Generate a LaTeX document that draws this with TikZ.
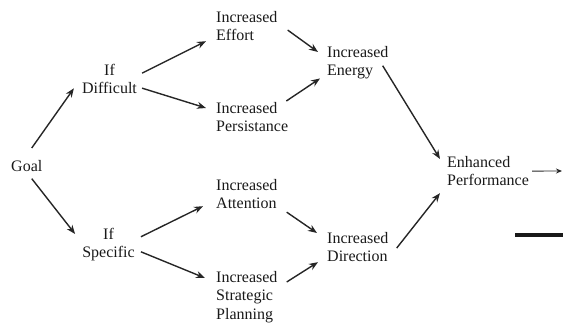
\documentclass[tikz,border=0pt]{standalone}
\usepackage{fontspec}
\setmainfont{Liberation Serif}
\usetikzlibrary{arrows.meta,positioning}

\begin{document}
\begin{tikzpicture}[x=1pt,y=-1pt,
  txt/.style={inner sep=0pt,align=left,anchor=north west,text=black!90,
    font=\fontsize{16}{18.5}\selectfont},
  arr/.style={-{Stealth[length=9pt,width=7pt]},line width=1.4pt,black!85}]
\useasboundingbox (0,0) rectangle (563,324);

\node[txt] (goal) at (11,160) {Goal};
\node[txt,anchor=north,align=center] (diff) at (109.5,64) {If\\Difficult};
\node[txt,anchor=north,align=center] (spec) at (108.5,228) {If\\Specific};
\node[txt] (effort) at (216,11) {Increased\\Effort};
\node[txt] (persist) at (216,102) {Increased\\Persistance};
\node[txt] (attn) at (216,179) {Increased\\Attention};
\node[txt] (plan) at (216,271) {Increased\\Strategic\\Planning};
\node[txt] (energy) at (327,46) {Increased\\Energy};
\node[txt] (direct) at (327,232) {Increased\\Direction};
\node[txt] (perf) at (447,156) {Enhanced\\Performance};
\coordinate (out) at (562,171);

\draw[arr] ([shift={(5,-12)}]goal.north) -- ([shift={(-8,-6)}]diff.south west);
\draw[arr] ([shift={(5,7)}]goal.south) -- ([shift={(-7,6)}]spec.north west);
\draw[arr] ([shift={(5,-6)}]diff.east) -- ([shift={(-10,0)}]effort.south west);
\draw[arr] ([shift={(5,9)}]diff.east) -- ([shift={(-10,6)}]persist.north west);
\draw[arr] ([shift={(6,-8)}]spec.east) -- ([shift={(-13,-3)}]attn.south west);
\draw[arr] ([shift={(6,7)}]spec.east) -- ([shift={(-11,7)}]plan.north west);
\draw[arr] ([shift={(10,4)}]effort.east) -- ([shift={(-9,6)}]energy.north west);
\draw[arr] ([shift={(-2,-1)}]persist.north east) -- ([shift={(-7,-1)}]energy.south west);
\draw[arr] ([shift={(-6,3)}]energy.east) -- ([shift={(-7,3)}]perf.north west);
\draw[arr] ([shift={(9,3)}]attn.south east) -- ([shift={(-10,1)}]direct.north west);
\draw[arr] ([shift={(9,11)}]plan.north east) -- ([shift={(-9,0)}]direct.south west);
\draw[arr] ([shift={(8,1)}]direct.east) -- ([shift={(-7,7)}]perf.south west);
\draw[-{Stealth[length=6pt,width=5pt]},line width=0.9pt,black!85] ([shift={(3,0)}]perf.east) -- (out);

\draw[line width=4.5pt,black!90] (515,235) -- (563,235);
\end{tikzpicture}
\end{document}
